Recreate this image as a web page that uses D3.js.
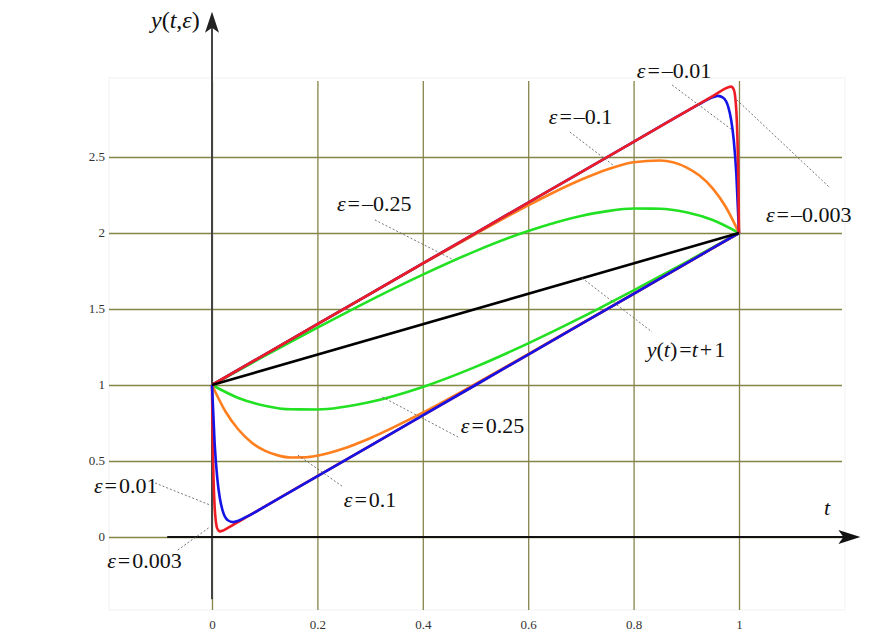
<!DOCTYPE html>
<html>
<head>
<meta charset="utf-8">
<script src="https://cdn.jsdelivr.net/npm/d3@7"></script>
<style>
	body { margin: 0; background: #fff; }
	.tick text { font-family: "Liberation Serif", "DejaVu Serif", serif; font-size: 13px; fill: #333; }
	.lbl { font-family: "Liberation Serif", "DejaVu Serif", serif; font-size: 22px; fill: #111; }
</style>
</head>
<body>
<script>
//Tick values
const xTicks = [0, 0.2, 0.4, 0.6, 0.8, 1];
const yTicks = [0, 0.5, 1, 1.5, 2, 2.5];

//Curves: t values and y values
const tPos025 = [0, 0.05, 0.1, 0.15, 0.2, 0.3, 0.4, 0.5, 0.6, 0.7, 0.8, 0.9, 1];
const yPos025 = [1, 0.915, 0.864, 0.840, 0.839, 0.888, 0.987, 1.119, 1.274, 1.443, 1.623, 1.809, 2];

const tPos01 = [0, 0.025, 0.05, 0.075, 0.1, 0.125, 0.15, 0.175, 0.2, 0.25, 0.3, 0.4, 0.5, 0.6, 0.8, 1];
const yPos01 = [1, 0.829, 0.707, 0.622, 0.568, 0.537, 0.523, 0.524, 0.535, 0.582, 0.650, 0.818, 1.007, 1.203, 1.600, 2];

const tPos001 = [0, 0.005, 0.01, 0.015, 0.02, 0.03, 0.04, 0.05, 0.07, 0.1, 0.3, 0.5, 0.7, 0.9, 1];
const yPos001 = [1, 0.617, 0.388, 0.253, 0.175, 0.110, 0.098, 0.107, 0.141, 0.2, 0.6, 1.0, 1.4, 1.8, 2];

const tPos0003 = [0, 0.001, 0.002, 0.003, 0.005, 0.0075, 0.01, 0.015, 0.02, 0.03, 0.05, 0.3, 0.5, 0.7, 0.9, 1];
const yPos0003 = [1, 0.719, 0.517, 0.374, 0.199, 0.097, 0.056, 0.037, 0.041, 0.06, 0.1, 0.6, 1.0, 1.4, 1.8, 2];

const tNeg025 = [0, 0.1, 0.2, 0.3, 0.4, 0.5, 0.6, 0.7, 0.75, 0.8, 0.85, 0.9, 0.95, 1];
const yNeg025 = [1, 1.191, 1.377, 1.557, 1.726, 1.881, 2.013, 2.112, 2.144, 2.161, 2.160, 2.136, 2.085, 2];

const tNeg01 = [0, 0.1, 0.2, 0.3, 0.4, 0.5, 0.6, 0.65, 0.7, 0.75, 0.8, 0.85, 0.9, 0.925, 0.95, 0.975, 1];
const yNeg01 = [1, 1.2, 1.400, 1.599, 1.798, 1.993, 2.182, 2.270, 2.350, 2.418, 2.465, 2.477, 2.432, 2.378, 2.294, 2.171, 2];

const tNeg001 = [0, 0.2, 0.4, 0.6, 0.8, 0.9, 0.93, 0.95, 0.96, 0.97, 0.98, 0.985, 0.99, 0.995, 1];
const yNeg001 = [1, 1.4, 1.8, 2.2, 2.6, 2.8, 2.858, 2.893, 2.902, 2.890, 2.825, 2.747, 2.612, 2.384, 2];

const tNeg0003 = [0, 0.2, 0.4, 0.6, 0.8, 0.95, 0.98, 0.985, 0.99, 0.993, 0.995, 0.997, 0.998, 0.999, 1];
const yNeg0003 = [1, 1.4, 1.8, 2.2, 2.6, 2.9, 2.959, 2.963, 2.944, 2.889, 2.801, 2.626, 2.483, 2.282, 2];

const tLimit = [0, 1];
const yLimit = [1, 2];

//Label texts with their anchor point [t, y] and leader line ends
const labelNames = ["ε=–0.01", "ε=–0.1", "ε=–0.003", "ε=–0.25", "y(t)=t+1", "ε=0.25", "ε=0.1", "ε=0.01", "ε=0.003"];
const labelAt = [[0.806, 3.02], [0.639, 2.717], [1.051, 2.072], [0.237, 2.145], [0.825, 1.184], [0.472, 0.684], [0.25, 0.197], [-0.224, 0.289], [-0.199, -0.204]];
const leaderFrom = [[0.873, 2.974], [0.679, 2.664], [0.996, 2.875], [0.309, 2.086], [0.702, 1.704], [0.323, 0.921], [0.163, 0.539], [-0.108, 0.355], [-0.065, -0.086]];
const leaderTo = [[0.987, 2.678], [0.761, 2.447], [1.173, 2.296], [0.455, 1.829], [0.835, 1.349], [0.467, 0.658], [0.249, 0.329], [-0.004, 0.211], [-0.004, 0.066]];

window.onload = function(){
	let w = 870, h = 637;

	let svg = d3.select("body")
		.append("svg")
		.attr("width", w)
		.attr("height", h);

	let x = d3.scaleLinear().domain([0, 1]).range([212, 739]);
	let y = d3.scaleLinear().domain([0, 2.5]).range([537, 157]);

	//faint frame
	svg.append("rect")
		.attr("x", 109).attr("y", y(3.02))
		.attr("width", 736).attr("height", y(-0.48) - y(3.02))
		.style("fill", "none")
		.style("stroke", "#f2f2f2");

	//grid: horizontal lines through the y axis generator
	let gridY = svg.append("g")
		.attr("class", "gridY")
		.attr("transform", "translate(109,0)")
		.call(d3.axisLeft(y).tickValues(yTicks).tickSize(-733).tickPadding(4).tickFormat(d3.format("")));
	gridY.select(".domain").remove();
	gridY.selectAll("line").style("stroke", "#85854a").style("stroke-width", 1.3);
	gridY.selectAll("text").attr("dy", "0.3em");

	//grid: vertical lines
	let gridX = svg.append("g")
		.attr("class", "gridX")
		.attr("transform", "translate(0," + y(-0.48) + ")")
		.call(d3.axisBottom(x).tickValues(xTicks).tickSize(-(y(-0.48) - y(3))).tickPadding(10).tickFormat(d3.format("")));
	gridX.select(".domain").remove();
	gridX.selectAll("line").style("stroke", "#85854a").style("stroke-width", 1.3);

	//axes
	svg.append("line")
		.attr("x1", x(0)).attr("x2", x(0))
		.attr("y1", y(-0.41)).attr("y2", y(3.35))
		.style("stroke", "#444").style("stroke-width", 2);
	svg.append("path")
		.attr("d", "M" + x(0) + "," + (y(3.35) - 16) + " l-7,21 l7,-5 l7,5 z")
		.style("fill", "#222");
	svg.append("line")
		.attr("x1", x(-0.085)).attr("x2", x(1.2))
		.attr("y1", y(0)).attr("y2", y(0))
		.style("stroke", "#111").style("stroke-width", 1.8);
	svg.append("path")
		.attr("d", "M" + (x(1.2) + 16) + "," + y(0) + " l-22,-7 l5,7 l-5,7 z")
		.style("fill", "#111");

	//curves
	let series = [
		[tPos025, yPos025, "#22e022"],
		[tNeg025, yNeg025, "#22e022"],
		[tPos01, yPos01, "#ff7f1e"],
		[tNeg01, yNeg01, "#ff7f1e"],
		[tPos0003, yPos0003, "#ee1c24"],
		[tPos001, yPos001, "#1414e6"],
		[tNeg001, yNeg001, "#1414e6"],
		[tNeg0003, yNeg0003, "#ee1c24"],
		[tLimit, yLimit, "#000000"]
	];

	let line = d3.line()
		.x(function(d){ return x(d[0]); })
		.y(function(d){ return y(d[1]); })
		.curve(d3.curveMonotoneX);

	svg.selectAll(".curve")
		.data(series)
		.enter()
		.append("path")
		.attr("class", "curve")
		.attr("d", function(s){
			return line(s[0].map(function(t, i){ return [t, s[1][i]]; }));
		})
		.style("fill", "none")
		.style("stroke", function(s){ return s[2]; })
		.style("stroke-width", 2.6)
		.style("stroke-linejoin", "round");

	//leader lines
	svg.selectAll(".leader")
		.data(leaderFrom)
		.enter()
		.append("line")
		.attr("class", "leader")
		.attr("x1", function(d){ return x(d[0]); })
		.attr("y1", function(d){ return y(d[1]); })
		.attr("x2", function(d, i){ return x(leaderTo[i][0]); })
		.attr("y2", function(d, i){ return y(leaderTo[i][1]); })
		.style("stroke", "#666")
		.style("stroke-width", 0.9)
		.style("stroke-dasharray", "2,2");

	//labels: italic for the Greek letter and the variables, a little air round "=" and "+"
	function richText(g, str){
		let parts = str.match(/[εyt]|[=+]|[^εyt=+]+/g);
		parts.forEach(function(p){
			let span = g.append("tspan")
				.style("font-style", /^[εyt]$/.test(p) ? "italic" : "normal")
				.text(p);
			if (p === "=" || p === "+") span.attr("dx", 2);
			else if (parts.indexOf(p) > 0 && /^[=+]$/.test(parts[parts.indexOf(p) - 1] || "")) span.attr("dx", 2);
		});
	}

	labelNames.forEach(function(name, i){
		let t = svg.append("text")
			.attr("class", "lbl")
			.attr("x", x(labelAt[i][0]))
			.attr("y", y(labelAt[i][1]));
		richText(t, name);
	});

	let yTitle = svg.append("text").attr("class", "lbl").attr("x", 151).attr("y", 28);
	richText(yTitle, "y(t,ε)");
	svg.selectAll(".lbl").filter(function(){ return this === yTitle.node(); }).style("font-size", "24px");
	let xTitle = svg.append("text").attr("class", "lbl").attr("x", 824).attr("y", 515);
	richText(xTitle, "t");
};
</script>
</body>
</html>
